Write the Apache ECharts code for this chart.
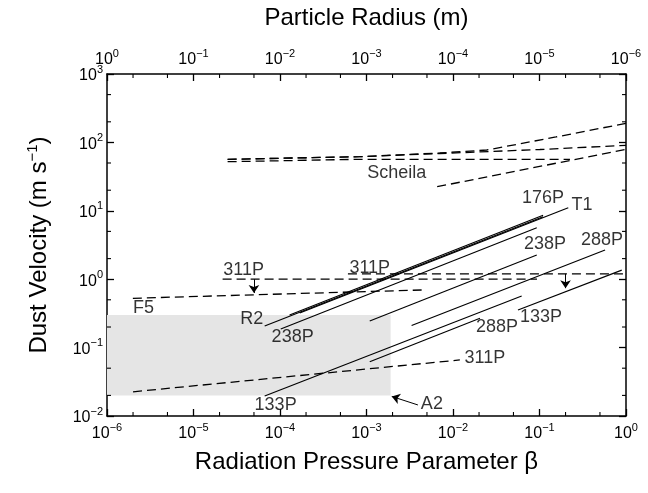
<!DOCTYPE html>
<html>
<head>
<meta charset="utf-8">
<script src="https://cdn.jsdelivr.net/npm/echarts@6/dist/echarts.min.js"></script>
<style>
html,body{margin:0;padding:0;background:#fff;}
#chart{width:648px;height:493px;}
</style>
</head>
<body>
<div id="chart"></div>
<script>
// ---- tick values ----
const betaMajor = [1e-6, 1e-5, 1e-4, 1e-3, 1e-2, 1e-1, 1];
const betaMinor = [2e-6, 5e-6, 2e-5, 5e-5, 2e-4, 5e-4, 2e-3, 5e-3, 2e-2, 5e-2, 2e-1, 5e-1];
const velMajor = [1e-2, 1e-1, 1, 1e1, 1e2, 1e3];
const velMinor = [2e-2, 5e-2, 2e-1, 5e-1, 2, 5, 20, 50, 200, 500];
const betaExponents = ['−6', '−5', '−4', '−3', '−2', '−1', '0'];
const radiusExponents = ['0', '−1', '−2', '−3', '−4', '−5', '−6'];
const velExponents = ['−2', '−1', '0', '1', '2', '3'];

// ---- solid lines (beta, velocity) ----
const lineR2    = [[6.65e-5, 0.207], [0.110, 8.2]];
const line176P  = [[1.29e-4, 0.30], [0.110, 8.6]];
const lineT1    = [[1.69e-4, 0.32], [0.215, 11.1]];
const line238Pa = [[1.02e-4, 0.187], [0.093, 5.66]];
const line238Pb = [[1.09e-3, 0.245], [0.093, 2.26]];
const line288Pa = [[3.32e-3, 0.21], [0.573, 2.67]];
const line288Pb = [[1.09e-3, 0.0622], [0.0205, 0.268]];
const line133Pa = [[6.65e-5, 0.0196], [0.0622, 0.567]];
const line133Pb = [[0.0564, 0.355], [0.893, 1.36]];

// ---- dashed lines ----
const line311Pa  = [[2.17e-5, 1.0], [0.0935, 1.0]];
const line311Pb  = [[6.1e-4, 1.2], [1.0, 1.2]];
const lineF5     = [[1.99e-6, 0.526], [4.34e-3, 0.695]];
const line311Plo = [[2.0e-6, 0.0226], [0.012, 0.066]];
const scheila1 = [[2.48e-5, 56.6], [8.35e-4, 61.8], [7.05e-3, 70], [0.0246, 77.4], [0.155, 120], [1.0, 190]];
const scheila2 = [[2.48e-5, 56.6], [8.35e-4, 61.8], [7.05e-3, 68.8], [0.101, 78.7], [1.0, 90.7]];
const scheila3 = [[2.48e-5, 52.2], [8.35e-4, 56.6], [0.225, 56.6]];
const scheila4 = [[6.56e-3, 22.5], [1.0, 79]];

// ---- shaded region A2 ----
const a2Box = [[1e-6, 0.02], [1.9e-3, 0.3]];

// ---- arrows [from, to] ----
const arrows = [
  [[5e-5, 1.0], [5e-5, 0.63]],
  [[0.2, 1.2], [0.2, 0.74]],
  [[3.93e-3, 0.0145], [1.96e-3, 0.0193]]
];

// ---- text labels ----
const labelNames = ['Scheila', '176P', 'T1', '238P', '288P', '133P', '288P', '311P', 'A2', '133P', '238P', 'R2', 'F5', '311P', '311P'];
const labelX = [2.24e-3, 0.11, 0.31, 0.116, 0.528, 0.104, 0.0322, 0.0234, 5.7e-3, 8.9e-5, 1.40e-4, 4.7e-5, 2.64e-6, 3.8e-5, 1.09e-3];
const labelY = [35.7, 15.6, 12.2, 3.27, 3.74, 0.28, 0.203, 0.0705, 0.015, 0.0145, 0.141, 0.266, 0.385, 1.36, 1.48];

const X_MIN = 1e-6, X_MAX = 1, Y_MIN = 1e-2, Y_MAX = 1e3;

const FONT = 'Liberation Sans, Arial, Helvetica, sans-serif';
const rich = {
  b: {fontSize: 16, fontFamily: FONT, color: '#000', lineHeight: 20, verticalAlign: 'bottom'},
  s: {fontSize: 11, fontFamily: FONT, color: '#000', lineHeight: 12, verticalAlign: 'top'}
};
function supLabel(exps, vals) {
  return function (v) {
    let best = 0, bd = Infinity;
    for (let i = 0; i < vals.length; i++) {
      const d = Math.abs(Math.log10(v) - Math.log10(vals[i]));
      if (d < bd) { bd = d; best = i; }
    }
    return '{b|10}{s|' + exps[best] + '}';
  };
}

const solid = [lineR2, line176P, lineT1, line238Pa, line238Pb, line288Pa, line288Pb, line133Pa, line133Pb];
const dashed = [line311Pa, line311Pb, lineF5, line311Plo, scheila1, scheila2, scheila3, scheila4];

const series = [];
series.push({
  type: 'line', data: [], xAxisIndex: 0, yAxisIndex: 0, z: 1, silent: true,
  markArea: {silent: true, itemStyle: {color: '#e5e5e5'},
    data: [[{coord: a2Box[0]}, {coord: a2Box[1]}]]}
});
solid.forEach(d => series.push({
  type: 'line', data: d, xAxisIndex: 0, yAxisIndex: 0, symbol: 'none', z: 3, silent: true,
  lineStyle: {color: '#000', width: 1.2, type: 'solid'}
}));
dashed.forEach(d => series.push({
  type: 'line', data: d, xAxisIndex: 0, yAxisIndex: 0, symbol: 'none', z: 3, silent: true,
  lineStyle: {color: '#000', width: 1.3, type: [9, 5]}
}));
series.push({
  type: 'line', data: [], xAxisIndex: 0, yAxisIndex: 0, z: 4, silent: true,
  markLine: {silent: true, symbol: ['none', 'arrow'], symbolSize: 8, animation: false,
    label: {show: false}, lineStyle: {color: '#000', width: 1, type: 'solid'},
    itemStyle: {color: '#000'},
    data: arrows.map(a => [{coord: a[0]}, {coord: a[1]}])}
});
series.push({
  type: 'scatter', xAxisIndex: 0, yAxisIndex: 0, z: 5, silent: true,
  symbolSize: 1, itemStyle: {color: 'rgba(255,255,255,0)'},
  label: {show: true, position: 'inside', formatter: '{b}', color: '#000', fontSize: 18,
    fontFamily: FONT, textBorderWidth: 0},
  data: labelNames.map((n, i) => ({name: n, value: [labelX[i], labelY[i]]}))
});
// minor ticks (inside, on all four sides) placed through the axis scales
const TICK = 4;
function minorTicks(vals, horizontal) {
  return {
    type: 'custom', xAxisIndex: 0, yAxisIndex: 0, z: 10, silent: true, clip: false,
    data: vals.map(v => horizontal ? [v, Y_MIN] : [X_MIN, v]),
    renderItem: function (params, api) {
      const st = {stroke: '#000', lineWidth: 1.1, fill: null};
      if (horizontal) {
        const b = api.value(0);
        const p1 = api.coord([b, Y_MIN]);
        const p2 = api.coord([b, Y_MAX]);
        return {type: 'group', children: [
          {type: 'line', shape: {x1: p1[0], y1: p1[1], x2: p1[0], y2: p1[1] - TICK}, style: st},
          {type: 'line', shape: {x1: p2[0], y1: p2[1], x2: p2[0], y2: p2[1] + TICK}, style: st}
        ]};
      } else {
        const v = api.value(1);
        const p1 = api.coord([X_MIN, v]);
        const p2 = api.coord([X_MAX, v]);
        return {type: 'group', children: [
          {type: 'line', shape: {x1: p1[0], y1: p1[1], x2: p1[0] + TICK, y2: p1[1]}, style: st},
          {type: 'line', shape: {x1: p2[0], y1: p2[1], x2: p2[0] - TICK, y2: p2[1]}, style: st}
        ]};
      }
    }
  };
}
series.push(minorTicks(betaMinor, true));
series.push(minorTicks(velMinor, false));

function logAxis(pos, min, max, extra) {
  return Object.assign({
    type: 'log', logBase: 10, position: pos, min: min, max: max,
    splitLine: {show: false}, minorTick: {show: false}
  }, extra);
}

const option = {
  animation: false,
  backgroundColor: '#fff',
  grid: {left: 107, right: 22, top: 74, bottom: 77},
  xAxis: [
    logAxis('bottom', X_MIN, X_MAX, {
      axisLine: {show: true, lineStyle: {color: '#000', width: 1.5}},
      axisTick: {show: true, inside: true, length: 7, customValues: betaMajor, lineStyle: {color: '#000', width: 1.3}},
      axisLabel: {show: true, customValues: betaMajor, margin: 6, formatter: supLabel(betaExponents, betaMajor), rich: rich},
      name: 'Radiation Pressure Parameter β', nameLocation: 'middle', nameGap: 34,
      nameTextStyle: {fontSize: 24, fontFamily: FONT, color: '#000'}
    }),
    logAxis('top', X_MIN, X_MAX, {
      axisLine: {show: true, lineStyle: {color: '#000', width: 1.5}},
      axisTick: {show: true, inside: true, length: 7, customValues: betaMajor, lineStyle: {color: '#000', width: 1.3}},
      axisLabel: {show: true, customValues: betaMajor, margin: 6, formatter: supLabel(radiusExponents, betaMajor), rich: rich},
      name: 'Particle Radius (m)', nameLocation: 'middle', nameGap: 44,
      nameTextStyle: {fontSize: 24, fontFamily: FONT, color: '#000'}
    })
  ],
  yAxis: [
    logAxis('left', Y_MIN, Y_MAX, {
      axisLine: {show: true, lineStyle: {color: '#000', width: 1.5}},
      axisTick: {show: true, inside: true, length: 7, customValues: velMajor, lineStyle: {color: '#000', width: 1.3}},
      axisLabel: {show: true, customValues: velMajor, margin: 4, formatter: supLabel(velExponents, velMajor), rich: rich},
      name: '{n|Dust Velocity (m s}{s|−1}{n|)}', nameLocation: 'middle', nameGap: 56, nameRotate: 90,
      nameTextStyle: {rich: {
        n: {fontSize: 24, fontFamily: FONT, color: '#000', lineHeight: 26, verticalAlign: 'bottom'},
        s: {fontSize: 15, fontFamily: FONT, color: '#000', lineHeight: 15, verticalAlign: 'top'}
      }}
    }),
    logAxis('right', Y_MIN, Y_MAX, {
      axisLine: {show: true, lineStyle: {color: '#000', width: 1.5}},
      axisTick: {show: true, inside: true, length: 7, customValues: velMajor, lineStyle: {color: '#000', width: 1.3}},
      axisLabel: {show: false}
    })
  ],
  series: series
};

const chart = echarts.init(document.getElementById('chart'), null, {renderer: 'canvas'});
chart.setOption(option);
</script>
</body>
</html>
